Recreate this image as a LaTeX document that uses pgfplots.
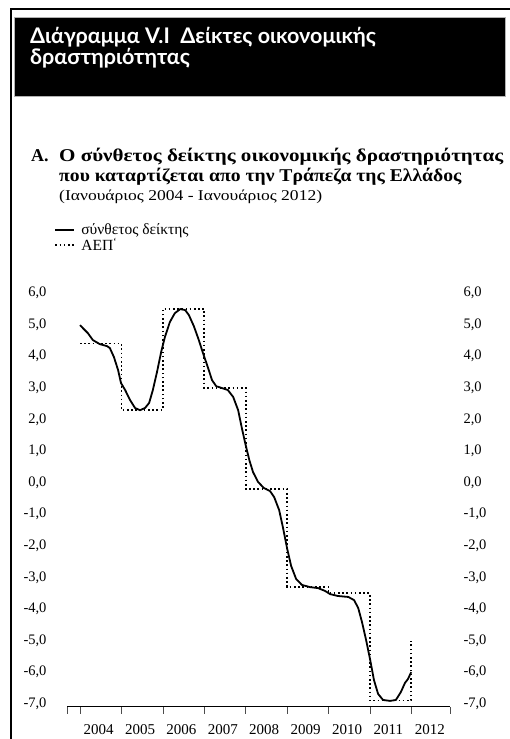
\documentclass[border=0pt]{standalone}
\usepackage{fontspec}
\setmainfont{Liberation Serif}
\newfontfamily\titlefont{Lato}
\usepackage{pgfplots}
\pgfplotsset{compat=1.18}
\usepackage{graphicx}

\begin{document}
\begin{tikzpicture}[x=1bp,y=1bp]
\path[use as bounding box] (0,0) rectangle (510,739);
% frame
\draw[line width=2bp] (510,730) -- (11,730) -- (11,0);
\fill[black] (14,643) rectangle (505,722);
\draw[gray!60, line width=0.8bp] (14,643) rectangle (505,722);
\node[anchor=base west, inner sep=0, text=white, font=\titlefont\bfseries\fontsize{21.5bp}{24bp}\selectfont] at (30,695) {Διάγραμμα V.I\ \ Δείκτες οικονομικής};
\node[anchor=base west, inner sep=0, text=white, font=\titlefont\bfseries\fontsize{21.5bp}{24bp}\selectfont] at (30,674) {δραστηριότητας};
% subtitle
\node[anchor=base west, inner sep=0, font=\bfseries\fontsize{18bp}{20bp}\selectfont] at (31,577) {Α.};
\node[anchor=base west, inner sep=0, font=\bfseries\fontsize{18bp}{20bp}\selectfont] at (59,577) {\scalebox{1.17}[1]{Ο σύνθετος δείκτης οικονομικής δραστηριότητας}};
\node[anchor=base west, inner sep=0, font=\bfseries\fontsize{18bp}{20bp}\selectfont] at (59,557) {\scalebox{1.09}[1]{που καταρτίζεται απο την Τράπεζα της Ελλάδος}};
\node[anchor=base west, inner sep=0, font=\fontsize{15bp}{17bp}\selectfont] at (59,538) {\scalebox{1.17}[1]{(Ιανουάριος 2004 - Ιανουάριος 2012)}};

\begin{axis}[
  at={(67bp,32.1bp)}, anchor=south west, scale only axis,
  width=383bp, height=413.9bp,
  xmin=2003.686, xmax=2012.937, ymin=-7.1, ymax=6,
  axis x line*=bottom, axis y line*=left,
  y axis line style={draw=none},
  x axis line style={line width=0.8bp},
  ytick={-7,-6,...,6},
  y tick style={draw=none},
  yticklabel={\pgfmathprintnumber[fixed,fixed zerofill,precision=1,use comma,assume math mode=true]{\tick}},
  yticklabel style={font=\fontsize{14.5bp}{16bp}\selectfont, xshift=-10bp},
  xtick={2003.686,2004,2005,...,2012,2012.937},
  xticklabels={},
  tick align=outside, major tick length=7bp,
  x tick style={line width=0.5bp, black!70},
  extra x ticks={2004.45,2005.45,2006.45,2007.45,2008.45,2009.45,2010.45,2011.45,2012.45},
  extra x tick labels={2004,2005,2006,2007,2008,2009,2010,2011,2012},
  extra x tick style={major tick length=0pt, tick style={draw=none}},
  xticklabel style={font=\fontsize{15bp}{16bp}\selectfont, yshift=-14bp},
  legend style={at={(-0.033,1.172)}, anchor=north west, draw=none, fill=none,
    font=\fontsize{15.5bp}{17bp}\selectfont, inner sep=0pt, row sep=-2bp,
    nodes={inner xsep=6bp}},
  legend cell align=left,
  legend image code/.code={\draw[#1] (0bp,0bp) -- (19bp,0bp);},
  clip=false,
]
\addplot[black, line width=1.8bp, line join=round] coordinates {
(2004.00,4.98)(2004.19,4.73)(2004.31,4.51)(2004.48,4.38)(2004.65,4.32)(2004.72,4.26)
(2004.82,3.97)(2004.92,3.56)(2004.99,3.15)(2005.09,2.93)(2005.21,2.61)(2005.33,2.36)
(2005.45,2.29)(2005.57,2.36)(2005.67,2.52)(2005.76,2.93)(2005.86,3.50)(2005.96,4.13)
(2006.05,4.60)(2006.17,5.08)(2006.29,5.36)(2006.42,5.49)(2006.54,5.46)(2006.63,5.30)
(2006.75,4.95)(2006.87,4.51)(2006.97,4.10)(2007.07,3.72)(2007.19,3.24)(2007.29,3.05)
(2007.43,2.99)(2007.57,2.93)(2007.70,2.71)(2007.82,2.29)(2007.91,1.72)(2007.99,1.25)
(2008.09,0.71)(2008.18,0.33)(2008.30,0.02)(2008.44,-0.17)(2008.59,-0.27)(2008.69,-0.46)
(2008.81,-0.87)(2008.90,-1.41)(2009.00,-2.07)(2009.10,-2.64)(2009.22,-3.05)(2009.36,-3.24)
(2009.56,-3.31)(2009.75,-3.34)(2009.92,-3.43)(2010.04,-3.53)(2010.23,-3.59)(2010.48,-3.62)
(2010.62,-3.72)(2010.72,-3.97)(2010.81,-4.41)(2010.91,-4.98)(2011.01,-5.62)(2011.10,-6.25)
(2011.20,-6.69)(2011.32,-6.88)(2011.49,-6.91)(2011.63,-6.88)(2011.75,-6.63)(2011.85,-6.34)
(2011.92,-6.22)(2012.00,-6.00)
};
\addlegendentry{σύνθετος δείκτης}
\addplot[black, line width=1.8bp, dash pattern=on 1.6bp off 2.6bp, const plot] coordinates {
(2004,4.4)(2005,2.3)(2006,5.5)(2007,3.0)(2008,-0.2)(2009,-3.3)(2010,-3.5)(2011,-6.9)(2012,-5.0)
};
\addlegendentry{ΑΕΠ\textsuperscript{`}}
\end{axis}

\begin{axis}[
  at={(67bp,32.1bp)}, anchor=south west, scale only axis,
  width=383bp, height=413.9bp,
  xmin=2003.686, xmax=2012.937, ymin=-7.1, ymax=6,
  hide x axis,
  axis y line*=right,
  y axis line style={draw=none},
  ytick={-7,-6,...,6},
  y tick style={draw=none},
  yticklabel={\pgfmathprintnumber[fixed,fixed zerofill,precision=1,use comma,assume math mode=true]{\tick}},
  yticklabel style={font=\fontsize{14.5bp}{16bp}\selectfont, xshift=10bp},
]
\addplot[draw=none] coordinates {(2005,0)};
\end{axis}
\end{tikzpicture}
\end{document}
